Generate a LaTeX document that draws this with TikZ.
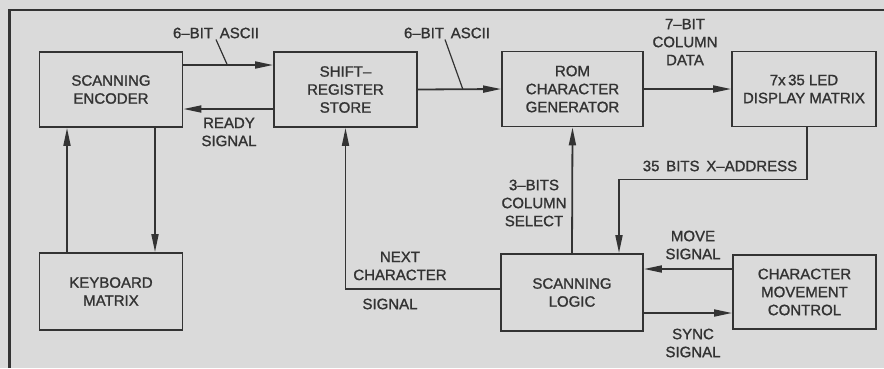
\documentclass[tikz,border=0pt]{standalone}
\usepackage{fontspec}
\setmainfont{Liberation Sans}
\newfontfamily\lett{Liberation Sans}[Ligatures=TeX, FakeBold=1.3]
\usetikzlibrary{arrows.meta, positioning, calc}
\definecolor{paper}{HTML}{DADADA}
\definecolor{ink}{HTML}{333333}
\newcommand\lblfont{\lett\fontsize{15}{18}\selectfont\spaceskip 0.45em\relax}

\begin{document}
\begin{tikzpicture}[
  x=1pt, y=-1pt,
  every node/.style={font=\lett\fontsize{15}{18}\selectfont, text=ink},
  blk/.style={draw=ink, line width=1.8pt, fill=paper,
              minimum width=143pt, minimum height=75pt,
              align=center, inner sep=0pt},
  lbl/.style={align=center, inner sep=0pt, font=\lblfont},
  arr/.style={draw=ink, line width=1.8pt, -{Triangle[length=18pt,width=7pt]}},
  lead/.style={draw=ink, line width=1.2pt},
]
% --- paper + frame
\useasboundingbox (0,0) rectangle (884,368);
\fill[paper] (0,0) rectangle (884,368);
\draw[ink, line width=2.4pt] (9.5,368) -- (9.5,10) -- (884,10);

% --- row 1: encoder, store, rom, display
\node[blk] (enc) at (111,89.5)   {SCANNING\\ENCODER};
\node[blk] (shr) at (345.5,89.5) {SHIFT--\\REGISTER\\STORE};
\node[blk, minimum width=141pt] (rom) at (572.5,89) {ROM\\CHARACTER\\GENERATOR};
\node[blk, minimum width=144pt] (led) at (804,89)   {7x\,35 LED\\DISPLAY MATRIX};

% --- row 2: keyboard, logic, movement
\node[blk, minimum height=77pt] (kbd) at (111,291.5)   {KEYBOARD\\MATRIX};
\node[blk, minimum height=77pt, minimum width=142pt] (lgc) at (572,292.5) {SCANNING\\LOGIC};
\node[blk, minimum height=74pt] (mov) at (804.5,292)   {CHARACTER\\MOVEMENT\\CONTROL};

% --- labels
\node[lbl] (as1) at (216,33)  {6--BIT ASCII};
\node[lbl] (rdy) at (229,132) {READY\\SIGNAL};
\node[lbl] (as2) at (447,33)  {6--BIT ASCII};
\node[lbl] (col) at (685,42)  {7--BIT\\COLUMN\\DATA};
\node[lbl] (xad) at (720,166) {35 BITS X--ADDRESS};
\node[lbl] (sel) at (534,203) {3--BITS\\COLUMN\\SELECT};
\node[lbl] (nxt) at (400,266) {NEXT\\CHARACTER};
\node[lbl] (sig) at (390,304) {SIGNAL};
\node[lbl] (mvs) at (693,245) {MOVE\\SIGNAL};
\node[lbl] (syn) at (693,343) {SYNC\\SIGNAL};

% --- data path
\draw[arr] ([yshift=24.5pt]enc.east) -- coordinate[pos=0.49] (t1) ([yshift=24.5pt]shr.west);
\draw[arr] ([yshift=-19.5pt]shr.west) -- ([yshift=-19.5pt]enc.east);
\draw[arr] (shr.east) -- coordinate[pos=0.54] (t2) (rom.west);
\draw[arr] (rom.east) -- (led.west);
\draw[lead] ([yshift=-1pt]as1.south) -- (t1);
\draw[lead] ([yshift=-1pt,xshift=-2pt]as2.south) -- (t2);

% --- keyboard loop
\draw[arr] ([xshift=-44pt]kbd.north) -- ([xshift=-44pt]enc.south);
\draw[arr] ([xshift=44pt]enc.south) -- ([xshift=44pt]kbd.north);

% --- scanning logic
\draw[arr] ([xshift=3pt]led.south) -- ++(0,52) -| ([xshift=47pt]lgc.north);
\draw[arr] (lgc.north) -- (rom.south);
\draw[arr] ([yshift=3.5pt]lgc.west) -| (shr.south);
\draw[arr] ([yshift=23pt]mov.west) -- ([yshift=23.5pt]lgc.east);
\draw[arr] ([yshift=-20.5pt]lgc.east) -- ([yshift=-21pt]mov.west);
\end{tikzpicture}
\end{document}
